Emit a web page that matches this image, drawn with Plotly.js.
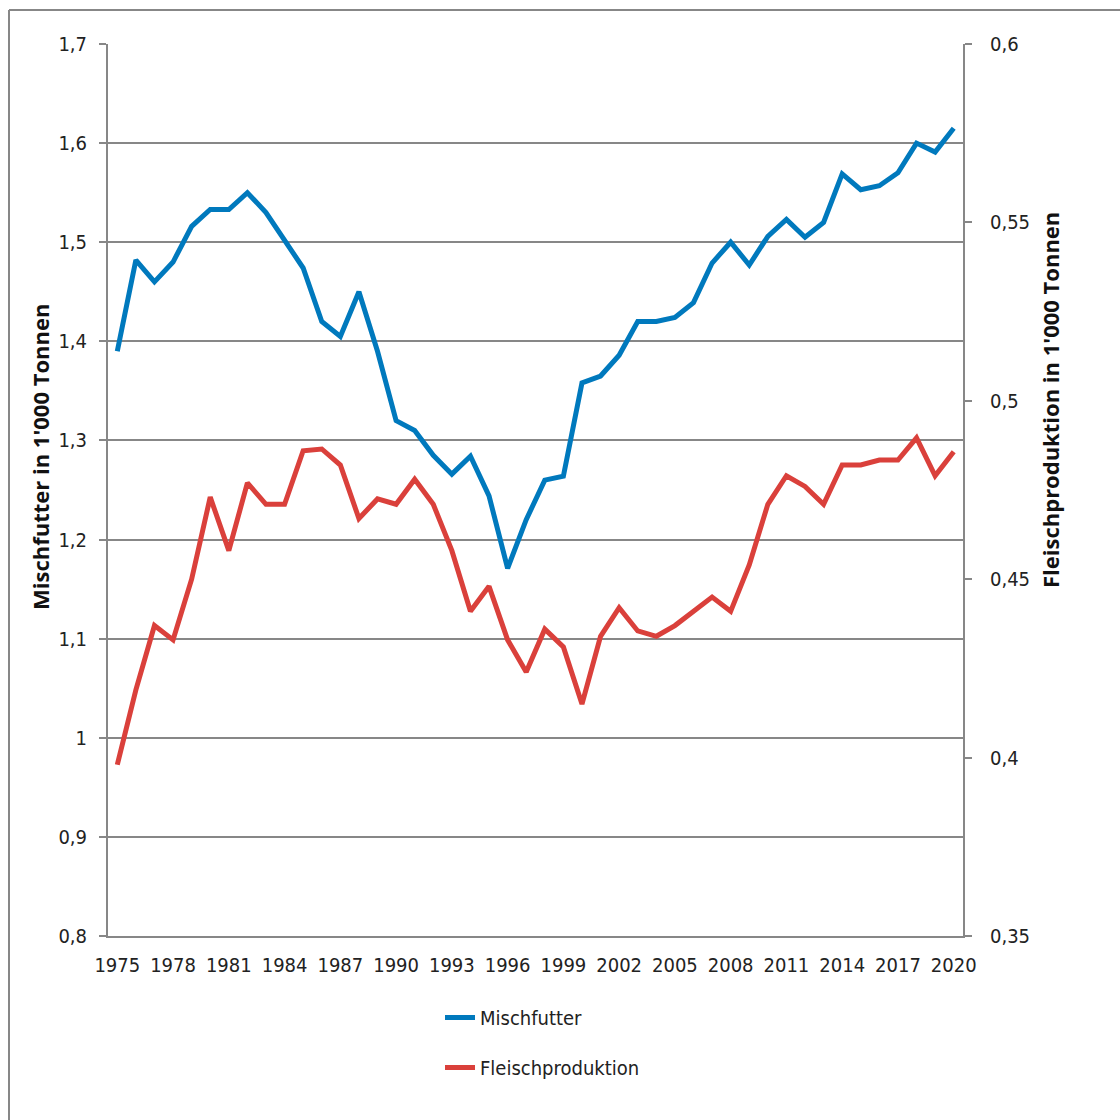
<!DOCTYPE html>
<html>
<head>
<meta charset="utf-8">
<script src="https://cdn.plot.ly/plotly-3.0.1.min.js"></script>
<style>
html,body{margin:0;padding:0;background:#fff;}
#chart{width:1120px;height:1120px;}
</style>
</head>
<body>
<div id="chart"></div>
<script>
const years = [1975,1976,1977,1978,1979,1980,1981,1982,1983,1984,1985,1986,1987,1988,1989,1990,1991,1992,1993,1994,1995,1996,1997,1998,1999,2000,2001,2002,2003,2004,2005,2006,2007,2008,2009,2010,2011,2012,2013,2014,2015,2016,2017,2018,2019,2020];

const mischfutter = [1.390,1.482,1.460,1.480,1.516,1.533,1.533,1.550,1.530,1.502,1.474,1.420,1.405,1.450,1.390,1.320,1.310,1.285,1.266,1.284,1.244,1.171,1.220,1.260,1.264,1.358,1.365,1.386,1.420,1.420,1.424,1.439,1.479,1.500,1.477,1.506,1.523,1.505,1.520,1.569,1.553,1.557,1.570,1.600,1.591,1.615];

const fleischproduktion = [0.398,0.419,0.437,0.433,0.450,0.473,0.458,0.477,0.471,0.471,0.486,0.4865,0.482,0.467,0.4725,0.471,0.478,0.471,0.458,0.441,0.448,0.433,0.424,0.436,0.431,0.415,0.434,0.442,0.4355,0.434,0.437,0.441,0.445,0.441,0.454,0.471,0.479,0.476,0.471,0.482,0.482,0.4834,0.4834,0.4896,0.479,0.4857];

const xTickVals = [1975,1978,1981,1984,1987,1990,1993,1996,1999,2002,2005,2008,2011,2014,2017,2020];
const xTickText = ["1975","1978","1981","1984","1987","1990","1993","1996","1999","2002","2005","2008","2011","2014","2017","2020"];
const yLeftVals = [0.8,0.9,1.0,1.1,1.2,1.3,1.4,1.5,1.6,1.7];
const yLeftText = ["0,8","0,9","1","1,1","1,2","1,3","1,4","1,5","1,6","1,7"];
const yRightVals = [0.35,0.4,0.45,0.5,0.55,0.6];
const yRightText = ["0,35","0,4","0,45","0,5","0,55","0,6"];

const tickFont = {family: "'Liberation Sans Narrow', 'DejaVu Sans Condensed', sans-serif", size: 20, color: '#222'};
const gray = '#878787';

const traces = [
  {x: years, y: mischfutter, name: 'Mischfutter', type: 'scatter', mode: 'lines',
   line: {color: '#0079BD', width: 5}, yaxis: 'y', legendgroup: 'a'},
  {x: years, y: fleischproduktion, name: 'Fleischproduktion', type: 'scatter', mode: 'lines',
   line: {color: '#DA403B', width: 5}, yaxis: 'y2', legendgroup: 'b'}
];

const W = 855, H = 892, L = 108, T = 44;
function px(x){return (x - L)/W;}
function py(y){return (T + H - y)/H;}

const layout = {
  width: 1120, height: 1120,
  margin: {l: 108, r: 157, t: 44, b: 184},
  paper_bgcolor: '#fff', plot_bgcolor: '#fff',
  showlegend: true,
  legend: {x: px(440), xanchor: 'left', y: py(998), yanchor: 'top',
           orientation: 'v', tracegroupgap: 21,
           font: {family: tickFont.family, size: 20, color: '#222'},
           bgcolor: 'rgba(0,0,0,0)'},
  xaxis: {range: [1974.5, 2020.5], tickvals: xTickVals, ticktext: xTickText,
          showgrid: false, zeroline: false, showline: true, linecolor: gray, linewidth: 2,
          ticks: '', tickfont: tickFont, ticklabelstandoff: 10, fixedrange: true},
  yaxis: {range: [0.8, 1.7], tickvals: yLeftVals, ticktext: yLeftText,
          showgrid: true, gridcolor: gray, gridwidth: 2, zeroline: false,
          showline: true, linecolor: gray, linewidth: 2, mirror: false,
          ticks: 'outside', ticklen: 7, tickcolor: gray, tickwidth: 2,
          tickfont: tickFont, ticklabelstandoff: 8},
  yaxis2: {range: [0.35, 0.6], tickvals: yRightVals, ticktext: yRightText,
           overlaying: 'y', side: 'right', showgrid: false, zeroline: false,
           showline: true, linecolor: gray, linewidth: 2,
           ticks: 'outside', ticklen: 7, tickcolor: gray, tickwidth: 2,
           tickfont: tickFont, ticklabelstandoff: 14},
  annotations: [
    {text: "Mischfutter in 1'000 Tonnen", xref: 'paper', yref: 'paper',
     x: px(40), y: py(457), xanchor: 'center', yanchor: 'middle', textangle: -90,
     showarrow: false, font: {family: "'Open Sans', sans-serif", size: 22, color: '#111', weight: 'bold'}},
    {text: "Fleischproduktion in 1'000 Tonnen", xref: 'paper', yref: 'paper',
     x: px(1050), y: py(400), xanchor: 'center', yanchor: 'middle', textangle: -90,
     showarrow: false, font: {family: "'Open Sans', sans-serif", size: 22, color: '#111', weight: 'bold'}}
  ],
  shapes: [
    {type: 'line', xref: 'paper', yref: 'paper', x0: px(9), x1: px(1125), y0: py(10), y1: py(10),
     line: {color: gray, width: 2}},
    {type: 'line', xref: 'paper', yref: 'paper', x0: px(9), x1: px(9), y0: py(10), y1: py(1125),
     line: {color: gray, width: 2}}
  ]
};

Plotly.newPlot('chart', traces, layout, {displayModeBar: false, staticPlot: true});
</script>
</body>
</html>
